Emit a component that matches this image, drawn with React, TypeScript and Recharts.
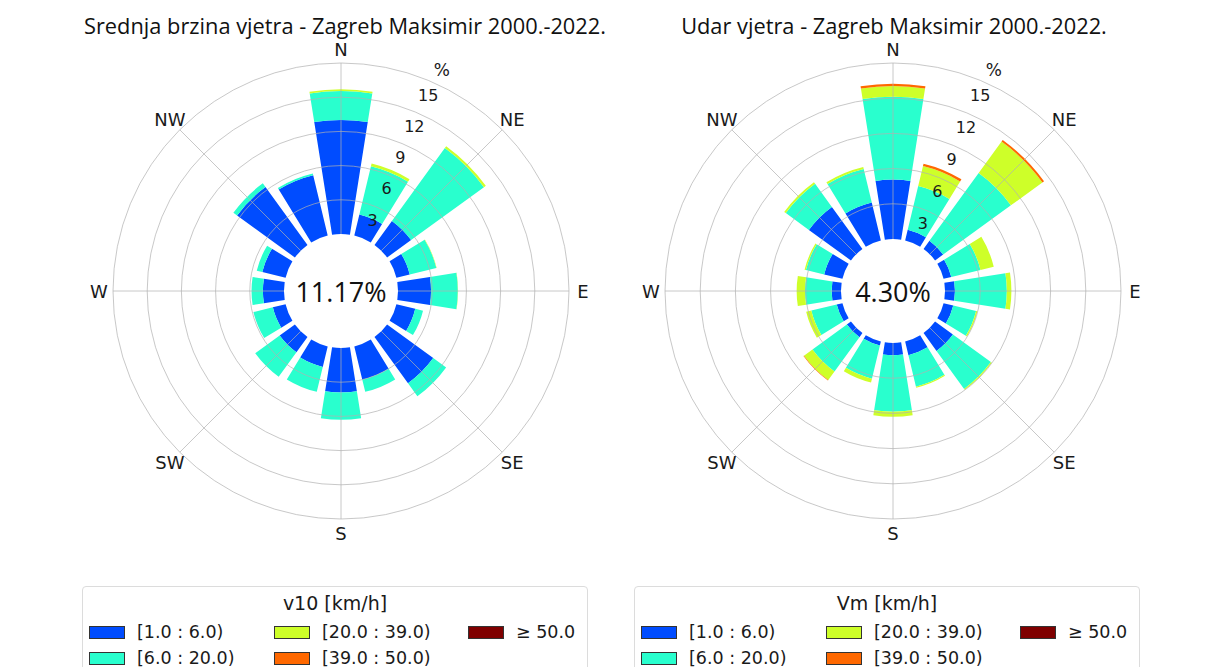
import React from 'react';
import {
  RadialBarChart,
  RadialBar,
  PolarAngleAxis,
  PolarRadiusAxis,
  PolarGrid,
} from 'recharts';

// ---------- data ----------
const DIRECTIONS = ['N', 'NNE', 'NE', 'ENE', 'E', 'ESE', 'SE', 'SSE', 'S', 'SSW', 'SW', 'WSW', 'W', 'WNW', 'NW', 'NNW'];
const COMPASS_LABELS = ['N', 'NE', 'E', 'SE', 'S', 'SW', 'W', 'NW'];
const RING_TICKS = [3, 6, 9, 12, 15];
const SPEED_BINS = ['[1.0 : 6.0)', '[6.0 : 20.0)', '[20.0 : 39.0)', '[39.0 : 50.0)', '≥ 50.0'];
const BIN_KEYS = ['b1', 'b2', 'b3', 'b4', 'b5'];
const BIN_COLORS = ['#004cff', '#29ffce', '#ceff29', '#ff6800', '#7f0000'];

// Srednja brzina vjetra (v10), % per direction
const v10_1_6 = [10.0, 1.9, 2.6, 1.2, 2.9, 1.7, 5.0, 3.0, 3.9, 1.85, 1.65, 1.15, 1.85, 2.1, 6.27, 5.45];
const v10_6_20 = [2.55, 4.35, 7.9, 2.4, 2.35, 0.7, 1.4, 1.1, 2.4, 2.25, 2.65, 1.75, 1.0, 0.5, 0.4, 0.15];
const v10_20_39 = [0.15, 0.25, 0.2, 0.03, 0.02, 0, 0, 0, 0, 0, 0, 0, 0, 0, 0, 0];
const v10_39_50 = [0, 0, 0, 0, 0, 0, 0, 0, 0, 0, 0, 0, 0, 0, 0, 0];
const v10_50 = [0, 0, 0, 0, 0, 0, 0, 0, 0, 0, 0, 0, 0, 0, 0, 0];
const V10_CALM = '11.17%';

// Udar vjetra (Vm), % per direction
const vm_1_6 = [5.07, 0.94, 0.85, 0.68, 0.85, 0.85, 1.88, 1.2, 1.05, 0.35, 0.43, 0.5, 0.8, 1.6, 4.43, 3.32];
const vm_6_20 = [7.06, 3.83, 7.14, 2.56, 4.42, 2.0, 4.0, 2.75, 4.81, 2.9, 3.62, 2.23, 2.27, 1.6, 2.43, 2.94];
const vm_20_39 = [0.91, 1.75, 3.32, 1.16, 0.39, 0.12, 0.1, 0.1, 0.42, 0.34, 0.9, 0.45, 0.71, 0.12, 0.17, 0.17];
const vm_39_50 = [0.2, 0.21, 0.17, 0, 0, 0, 0, 0, 0, 0, 0.05, 0, 0, 0, 0, 0];
const vm_50 = [0, 0, 0, 0, 0, 0, 0, 0, 0, 0, 0, 0, 0, 0, 0, 0];
const VM_CALM = '4.30%';

const buildRows = (series: number[][]) =>
  DIRECTIONS.map((dir, i) => {
    const row: any = { dir };
    BIN_KEYS.forEach((k, j) => {
      row[k] = series[j][i];
    });
    return row;
  });

const V10_ROWS = buildRows([v10_1_6, v10_6_20, v10_20_39, v10_39_50, v10_50]);
const VM_ROWS = buildRows([vm_1_6, vm_6_20, vm_20_39, vm_39_50, vm_50]);

const SECTOR = 360 / DIRECTIONS.length;
const GRID_ANGLES = COMPASS_LABELS.map((l) => 90 - DIRECTIONS.indexOf(l) * SECTOR);
const START_ANGLE = 90 - SECTOR / 2;
const END_ANGLE = START_ANGLE - 360;

const TICK_FONT = '"DejaVu Sans", sans-serif';
const TITLE_FONT = '"Open Sans", sans-serif';
const RAD = Math.PI / 180;

function CompassTick(props: any) {
  const { payload, ccx, ccy, labelR } = props;
  const label = payload?.value;
  if (!COMPASS_LABELS.includes(label)) return <g />;
  const a = (payload.coordinate + SECTOR / 2) * RAD;
  const x = ccx + labelR * Math.cos(a);
  const y = ccy - labelR * Math.sin(a);
  return (
    <text x={x} y={y} textAnchor="middle" dominantBaseline="central" fontFamily={TICK_FONT} fontSize={18} fill="#1a1a1a">
      {label}
    </text>
  );
}

function RingTick(props: any) {
  const { x, y, payload } = props;
  const v = payload?.value;
  const isLast = v === RING_TICKS[RING_TICKS.length - 1];
  return (
    <g>
      <text x={x - 5.5} y={y + 12.5} textAnchor="middle" dominantBaseline="central" fontFamily={TICK_FONT} fontSize={16} fill="#1a1a1a">
        {v}
      </text>
      {isLast && (
        <text x={x + 8} y={y - 12.5} textAnchor="middle" dominantBaseline="central" fontFamily={TICK_FONT} fontSize={17} fill="#1a1a1a">
          %
        </text>
      )}
    </g>
  );
}

function Rose({ rows, cx, cy, innerR, calm, width }: any) {
  return (
    <RadialBarChart
      width={width}
      height={560}
      data={rows}
      layout="centric"
      cx={cx}
      cy={cy}
      innerRadius={innerR}
      outerRadius={228}
      startAngle={START_ANGLE}
      endAngle={END_ANGLE}
      barCategoryGap="10%"
      margin={{ top: 0, right: 0, bottom: 0, left: 0 }}
    >
      <PolarAngleAxis
        type="category"
        dataKey="dir"
        axisLine={false}
        tickLine={false}
        tick={<CompassTick ccx={cx} ccy={cy} labelR={242} />}
      />
      <PolarRadiusAxis
        type="number"
        domain={[0, 15]}
        ticks={RING_TICKS}
        angle={66}
        axisLine={false}
        tickLine={false}
        tick={<RingTick />}
      />
      {BIN_KEYS.map((k, i) => (
        <RadialBar key={k} dataKey={k} name={SPEED_BINS[i]} stackId="a" fill={BIN_COLORS[i]} isAnimationActive={false} />
      ))}
      <PolarGrid gridType="circle" polarAngles={GRID_ANGLES} stroke="#b0b0b0" strokeOpacity={0.7} zIndex={450} />
      <text x={cx} y={cy} textAnchor="middle" dominantBaseline="central" fontFamily={TITLE_FONT} fontSize={27} fill="#111">
        {calm}
      </text>
    </RadialBarChart>
  );
}

function WindLegend({ title, left }: any) {
  const cols = [[0, 1], [2, 3], [4]];
  const colX = [6, 191, 385];
  return (
    <div
      style={{
        position: 'absolute',
        left,
        top: 586,
        width: 506,
        height: 100,
        border: '1px solid #dcdcdc',
        borderRadius: 4,
        background: '#fff',
        fontFamily: TICK_FONT,
        color: '#1a1a1a',
        boxSizing: 'border-box',
      }}
    >
      <div style={{ position: 'absolute', left: 0, width: '100%', top: 4, textAlign: 'center', fontSize: 19, lineHeight: '24px' }}>{title}</div>
      {cols.map((c, ci) =>
        c.map((idx, ri) => (
          <div key={idx} style={{ position: 'absolute', left: colX[ci], top: 35 + ri * 26, height: 20, display: 'flex', alignItems: 'center' }}>
            <span
              style={{
                display: 'inline-block',
                width: 36,
                height: 13,
                background: BIN_COLORS[idx],
                border: '1px solid #333',
                boxSizing: 'border-box',
                marginRight: 12,
              }}
            />
            <span style={{ fontSize: 17.5, whiteSpace: 'nowrap' }}>{SPEED_BINS[idx]}</span>
          </div>
        ))
      )}
    </div>
  );
}

export default function App() {
  return (
    <div style={{ position: 'absolute', left: 0, top: 0, width: 1209, height: 667, background: '#fff', overflow: 'hidden' }}>
      <div style={{ position: 'absolute', left: 0, top: 0 }}>
        <Rose rows={V10_ROWS} cx={341} cy={291} innerR={57} calm={V10_CALM} width={600} />
      </div>
      <div style={{ position: 'absolute', left: 600, top: 0 }}>
        <Rose rows={VM_ROWS} cx={293} cy={291} innerR={52} calm={VM_CALM} width={609} />
      </div>
      <div style={{ position: 'absolute', left: 45, width: 600, top: 13, textAlign: 'center', fontFamily: TITLE_FONT, fontSize: 21.8, lineHeight: '26px', color: '#111', whiteSpace: 'nowrap' }}>
        Srednja brzina vjetra - Zagreb Maksimir 2000.-2022.
      </div>
      <div style={{ position: 'absolute', left: 594, width: 600, top: 13, textAlign: 'center', fontFamily: TITLE_FONT, fontSize: 21.8, lineHeight: '26px', color: '#111', whiteSpace: 'nowrap' }}>
        Udar vjetra - Zagreb Maksimir 2000.-2022.
      </div>
      <WindLegend title="v10 [km/h]" left={82} />
      <WindLegend title="Vm [km/h]" left={634} />
    </div>
  );
}
